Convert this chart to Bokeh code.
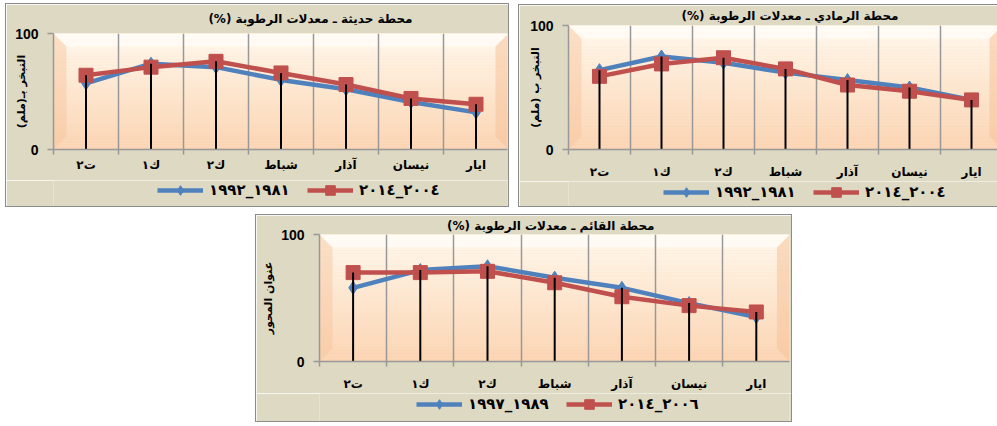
import numpy as np
from bokeh.plotting import figure
from bokeh.models import FixedTicker, Legend, LegendItem
from bokeh.layouts import row, column
from bokeh.embed import file_html
from bokeh.resources import INLINE

# ---------------- data ----------------
months = ["ت٢", "ك١", "ك٢", "شباط", "آذار", "نيسان", "ايار"]

haditha_old = [57, 74, 71, 60, 52, 41, 32]
haditha_new = [64, 71, 76, 66, 56, 44, 39]
ramadi_old = [64, 75, 70, 62, 56, 50, 40]
ramadi_new = [59, 69, 74, 65, 52, 47, 40]
qaim_old = [58, 72, 75, 66, 58, 46, 35]
qaim_new = [70, 70, 71, 62, 51, 44, 39]

titles = ["محطة حديثة ـ معدلات الرطوبة (%)",
          "محطة الرمادي ـ معدلات الرطوبة (%)",
          "محطة القائم ـ معدلات الرطوبة (%)"]
ylabels = ["التبخر بـ(ملم)", "التبخر ب (ملم)", "عنوان المحور"]
legend_old = ["١٩٨١_١٩٩٢", "١٩٨١_١٩٩٢", "١٩٨٩_١٩٩٧"]
legend_new = ["٢٠٠٤_٢٠١٤", "٢٠٠٤_٢٠١٤", "٢٠٠٦_٢٠١٤"]
y_ticks = [0, 100]

RLM = "\u200f"
AR_FONT = "DejaVu Sans"
NUM_FONT = "Liberation Sans"
PANEL_BG = "#DDD9C3"
GRID = "#989898"
BLUE = "#4F81BD"
RED = "#C0504D"
BORDER = "1px solid #8C8C8C"
NAN = [float("nan")]


def hex_mix(c1, c2, t):
    a = [int(c1[i:i + 2], 16) for i in (1, 3, 5)]
    b = [int(c2[i:i + 2], 16) for i in (1, 3, 5)]
    return "#%02x%02x%02x" % tuple(round(a[k] + (b[k] - a[k]) * t) for k in range(3))


def panel(title, ylabel, old, new, lab_old, lab_new, w, h_main, h_leg, ml, mr, mt, fh,
          px_cat, title_right, title_standoff, ylab_standoff, xlab_standoff,
          leg_loc, styles, margin):
    n = len(months)
    xs = list(range(n))
    fw = w - ml - mr
    mb = h_main - mt - fh
    x_end = -0.5 + fw / px_cat
    p = figure(width=w, height=h_main, x_range=(-0.5, x_end), y_range=(0, 100),
               output_backend="svg", toolbar_location=None,
               min_border_left=ml, min_border_right=mr,
               min_border_top=mt, min_border_bottom=mb)
    p.border_fill_color = PANEL_BG
    p.background_fill_color = "#FDE4CC"
    p.outline_line_color = None

    # plot-area gradient (decoration)
    nb = 40
    edges = np.linspace(0, 100, nb + 1)
    cols = [hex_mix("#FBD4B2", "#FFF8EC", (i + 0.5) / nb) for i in range(nb)]
    p.quad(left=-0.5, right=x_end + 0.1, bottom=edges[:-1], top=edges[1:],
           fill_color=cols, line_color=None, level="image")
    dx = 13 / px_cat
    dy = 13 / fh * 100
    xr = 6.5
    p.patch([-0.5, -0.5 + dx, -0.5 + dx, -0.5], [100, 100 - dy, dy, 0],
            fill_color="#F6C39B", fill_alpha=0.45, line_color=None, level="image")
    p.patch([xr, xr - dx, xr - dx, xr], [100, 100 - dy, dy, 0],
            fill_color="#F6C39B", fill_alpha=0.55, line_color=None, level="image")
    p.patch([-0.5, -0.5 + dx, xr - dx, xr], [100, 100 - dy, 100 - dy, 100],
            fill_color="#FFFFFF", fill_alpha=0.5, line_color=None, level="image")

    # grids
    p.xgrid.ticker = FixedTicker(ticks=[i + 0.5 for i in range(n - 1)])
    p.xgrid.grid_line_color = GRID
    p.xgrid.grid_line_width = 1.5
    p.ygrid.ticker = FixedTicker(ticks=[100])
    p.ygrid.grid_line_color = GRID
    p.ygrid.grid_line_width = 1.5

    # y axis
    ya = p.yaxis[0]
    ya.ticker = FixedTicker(ticks=y_ticks)
    ya.axis_line_color = GRID
    ya.axis_line_width = 1.5
    ya.major_tick_line_color = GRID
    ya.major_tick_line_width = 1.5
    ya.major_tick_out = 6
    ya.major_tick_in = 0
    ya.minor_tick_line_color = None
    ya.major_label_text_font = NUM_FONT
    ya.major_label_text_font_style = "bold"
    ya.major_label_text_font_size = "14px"
    ya.major_label_text_color = "#000000"
    ya.major_label_standoff = 9
    ya.axis_label = ylabel + RLM
    ya.axis_label_text_font = AR_FONT
    ya.axis_label_text_font_style = "bold"
    ya.axis_label_text_font_size = "11px"
    ya.axis_label_text_color = "#000000"
    ya.axis_label_standoff = ylab_standoff

    # x axis
    xa = p.xaxis[0]
    xa.ticker = FixedTicker(ticks=xs, minor_ticks=[i - 0.5 for i in range(n + 1)])
    xa.major_label_overrides = {i: m for i, m in enumerate(months)}
    xa.axis_line_color = GRID
    xa.axis_line_width = 1.5
    xa.major_tick_line_color = None
    xa.major_tick_out = 0
    xa.major_tick_in = 0
    xa.minor_tick_line_color = GRID
    xa.minor_tick_line_width = 1.5
    xa.minor_tick_out = 5
    xa.minor_tick_in = 0
    xa.major_label_text_font = AR_FONT
    xa.major_label_text_font_style = "bold"
    xa.major_label_text_font_size = "12px"
    xa.major_label_text_color = "#000000"
    xa.major_label_standoff = xlab_standoff

    # series
    p.line(xs, old, line_color=BLUE, line_width=4.5)
    p.scatter(xs, old, marker="diamond", size=13, fill_color=BLUE, line_color=BLUE)
    p.line(xs, new, line_color=RED, line_width=4.5)
    p.scatter(xs, new, marker="square", size=14, fill_color=RED, line_color=RED)
    top = np.maximum(np.array(old), np.array(new))
    p.segment(x0=xs, y0=0, x1=xs, y1=top, line_color="#000000", line_width=2)

    # title
    p.title.text = title + RLM
    p.title.align = "right"
    p.title.offset = title_right
    p.title.vertical_align = "top"
    p.title.standoff = title_standoff
    p.title.text_font = AR_FONT
    p.title.text_font_style = "bold"
    p.title.text_font_size = "12px"
    p.title.text_color = "#000000"

    # legend strip (separate small figure so the legend is not clipped)
    lf = figure(width=w, height=h_leg, x_range=(0, 1), y_range=(0, 1),
                output_backend="svg", toolbar_location=None,
                x_axis_location=None, y_axis_location=None, min_border=0)
    lf.border_fill_color = PANEL_BG
    lf.background_fill_color = PANEL_BG
    lf.outline_line_color = None
    lf.grid.visible = False
    bl = lf.line(x=NAN, y=NAN, line_color=BLUE, line_width=4.5)
    bs = lf.scatter(x=NAN, y=NAN, marker="diamond", size=13, fill_color=BLUE, line_color=BLUE)
    rl = lf.line(x=NAN, y=NAN, line_color=RED, line_width=4.5)
    rs = lf.scatter(x=NAN, y=NAN, marker="square", size=14, fill_color=RED, line_color=RED)
    leg = Legend(items=[LegendItem(label=lab_old, renderers=[bl, bs]),
                        LegendItem(label=lab_new, renderers=[rl, rs])],
                 orientation="horizontal", location=leg_loc,
                 glyph_width=46, glyph_height=24, label_standoff=6, spacing=14,
                 label_width=84, padding=0, margin=0, border_line_color=None,
                 background_fill_alpha=0,
                 label_text_font=AR_FONT, label_text_font_style="bold",
                 label_text_font_size="15px", label_text_color="#000000")
    lf.add_layout(leg, "center")

    col = column(p, lf, spacing=0, styles=styles, margin=margin)
    return col


c1 = panel(titles[0], ylabels[0], haditha_old, haditha_new, legend_old[0], legend_new[0],
           502, 176, 26, 47, 1, 29, 116, 65.0, 95, 12, -16, 3, (104, 4),
           {"border": BORDER}, (3, 0, 0, 5))
c2 = panel(titles[1], ylabels[1], ramadi_old, ramadi_new, legend_old[1], legend_new[1],
           478, 176, 25, 49, 0, 20, 124, 62.0, 99, 2, -15, 10, (95, 2),
           {"border-left": BORDER, "border-top": BORDER, "border-bottom": BORDER},
           (4, 0, 0, 9))
c3 = panel(titles[2], ylabels[2], qaim_old, qaim_new, legend_old[2], legend_new[2],
           535, 178, 28, 63, 2, 19, 128, 67.2, 135, 0, 3, 10, (97, 5),
           {"border": BORDER}, (7, 0, 0, 255))

layout = column(row(c1, c2), c3)
layout.styles = {"background-color": "#FFFFFF"}
open("out.html", "w").write(file_html(layout, INLINE))
